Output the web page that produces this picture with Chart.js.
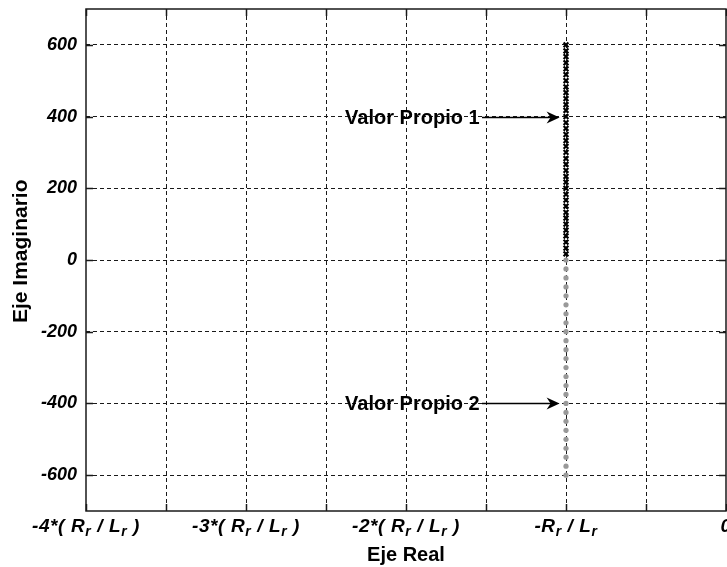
<!DOCTYPE html>
<html><head><meta charset="utf-8">
<script src="https://cdn.jsdelivr.net/npm/chart.js@4"></script>
<style>html,body{margin:0;padding:0;background:#fff;overflow:hidden}canvas{display:block}</style>
</head><body>
<canvas id="c" width="727" height="567"></canvas>
<script>
// ---- data ----
const xTickValues = [-4, -3.5, -3, -2.5, -2, -1.5, -1, -0.5, 0];
const xLabelValues = [-4, -3, -2, -1, 0];
const xLabelTexts = ['-4*( R_r / L_r )', '-3*( R_r / L_r )', '-2*( R_r / L_r )', '-R_r / L_r', '0'];
const yTickValues = [-600, -400, -200, 0, 200, 400, 600];
const eigenReal = -1;
const eigen1Imag = [600, 583, 567, 550, 533, 517, 500, 483, 467, 450, 433, 417, 400, 383, 367, 350, 333, 317,
                    300, 283, 267, 250, 233, 217, 200, 183, 167, 150, 133, 117, 100, 83, 67, 50, 33, 17];
const eigen2Imag = [0, -25, -50, -75, -100, -125, -150, -175, -200, -225, -250, -275, -300, -325, -350, -375,
                    -400, -425, -450, -475, -500, -525, -550, -575, -600];
const annotLabels = ['Valor Propio 1', 'Valor Propio 2'];
const annotImag = [400, -400];
const annotTextRight = -1.54;
const annotArrowStart = -1.525;
const annotArrowTip = -1.04;

// ---- chart ----
const FONT = '"Liberation Sans", Arial, Helvetica, sans-serif';
const INK = '#1a1a1a';

function drawSubText(ctx, str, cx, baseline, mainFont, subFont, subDrop) {
  const parts = [];
  for (let i = 0; i < str.length; i++) {
    if (str[i] === '_' && i + 1 < str.length) { parts.push({t: str[i + 1], sub: true}); i++; }
    else if (parts.length && !parts[parts.length - 1].sub) parts[parts.length - 1].t += str[i];
    else parts.push({t: str[i], sub: false});
  }
  let w = 0;
  parts.forEach(p => { ctx.font = p.sub ? subFont : mainFont; p.w = ctx.measureText(p.t).width; w += p.w; });
  let x = cx - w / 2;
  ctx.textAlign = 'left'; ctx.textBaseline = 'alphabetic';
  parts.forEach(p => { ctx.font = p.sub ? subFont : mainFont; ctx.fillText(p.t, x, baseline + (p.sub ? subDrop : 0)); x += p.w; });
}

const framePlugin = {
  id: 'frame',
  afterDraw(chart) {
    const ctx = chart.ctx, a = chart.chartArea, xs = chart.scales.x, ys = chart.scales.y;
    ctx.save();
    ctx.strokeStyle = INK; ctx.lineWidth = 1.5; ctx.setLineDash([]);
    // inner tick marks
    ctx.beginPath();
    xTickValues.forEach(v => {
      const px = Math.round(xs.getPixelForValue(v)) + 0.5;
      ctx.moveTo(px, a.bottom); ctx.lineTo(px, a.bottom - 7);
      ctx.moveTo(px, a.top); ctx.lineTo(px, a.top + 7);
    });
    yTickValues.forEach(v => {
      const py = Math.round(ys.getPixelForValue(v)) + 0.5;
      ctx.moveTo(a.left, py); ctx.lineTo(a.left + 7, py);
      ctx.moveTo(a.right, py); ctx.lineTo(a.right - 7, py);
    });
    ctx.stroke();
    // frame
    ctx.strokeRect(a.left, a.top, a.right - a.left, a.bottom - a.top);
    // x tick labels with subscripts
    ctx.fillStyle = '#000';
    ctx.letterSpacing = '0.6px';
    xLabelValues.forEach((v, i) => {
      drawSubText(ctx, xLabelTexts[i], xs.getPixelForValue(v), a.bottom + 21,
        'italic bold 19px ' + FONT, 'italic bold 14px ' + FONT, 4);
    });
    ctx.letterSpacing = '0px';
    // annotations
    annotLabels.forEach((t, i) => {
      const py = Math.round(ys.getPixelForValue(annotImag[i])) + 0.5;
      ctx.font = 'bold 20px ' + FONT;
      ctx.textAlign = 'right'; ctx.textBaseline = 'middle'; ctx.fillStyle = '#000';
      ctx.fillText(t, xs.getPixelForValue(annotTextRight), py + 1);
      const x0 = xs.getPixelForValue(annotArrowStart), x1 = xs.getPixelForValue(annotArrowTip);
      ctx.lineWidth = 1.5; ctx.strokeStyle = '#000';
      ctx.beginPath(); ctx.moveTo(x0, py); ctx.lineTo(x1 - 6, py); ctx.stroke();
      ctx.beginPath();
      ctx.moveTo(x1, py); ctx.lineTo(x1 - 13, py - 6); ctx.lineTo(x1 - 9, py); ctx.lineTo(x1 - 13, py + 6);
      ctx.closePath(); ctx.fillStyle = '#000'; ctx.fill();
    });
    ctx.restore();
  }
};

function zeroPad(s) { s.paddingTop = 0; s.paddingBottom = 0; s.paddingLeft = 0; s.paddingRight = 0; }

new Chart(document.getElementById('c'), {
  type: 'scatter',
  data: {
    datasets: [
      { label: 'Valor Propio 1', data: eigen1Imag.map(v => ({x: eigenReal, y: v})),
        pointStyle: 'crossRot', pointRadius: 3.4, pointBorderWidth: 2.2,
        borderColor: '#000', backgroundColor: '#000', showLine: false },
      { label: 'Valor Propio 2', data: eigen2Imag.map(v => ({x: eigenReal, y: v})),
        pointStyle: 'circle', pointRadius: 2.6, pointBorderWidth: 0,
        borderColor: '#999', backgroundColor: '#999', showLine: false }
    ]
  },
  options: {
    responsive: false, animation: false, events: [],
    layout: { autoPadding: false, padding: { left: 0, right: 1, top: 9, bottom: 0 } },
    plugins: { legend: { display: false }, tooltip: { enabled: false } },
    scales: {
      x: {
        type: 'linear', min: -4, max: 0,
        afterBuildTicks: s => { s.ticks = xTickValues.map(v => ({value: v})); },
        afterFit: s => { s.height = 56; zeroPad(s); },
        ticks: { display: false },
        grid: { drawTicks: false, lineWidth: 1,
                color: c => (c.tick && (c.tick.value === -4 || c.tick.value === 0)) ? 'rgba(0,0,0,0)' : INK },
        border: { display: false, dash: [4, 3] },
        title: { display: true, text: 'Eje Real', color: '#000',
                 font: { family: FONT, size: 20, weight: 'bold' }, padding: { top: 0, bottom: 0 } }
      },
      y: {
        type: 'linear', min: -700, max: 700,
        afterBuildTicks: s => { s.ticks = yTickValues.map(v => ({value: v})); },
        afterFit: s => { s.width = 86; zeroPad(s); },
        ticks: { display: true, padding: 9, color: '#000', callback: v => String(v),
                 font: { family: FONT, size: 18, style: 'italic', weight: 'bold' } },
        grid: { drawTicks: false, lineWidth: 1, color: INK },
        border: { display: false, dash: [4, 3] },
        title: { display: true, text: '   Eje Imaginario', color: '#000',
                 font: { family: FONT, size: 21, weight: 'bold' }, padding: { top: 9, bottom: 0 } }
      }
    }
  },
  plugins: [framePlugin]
});
</script>
</body></html>
